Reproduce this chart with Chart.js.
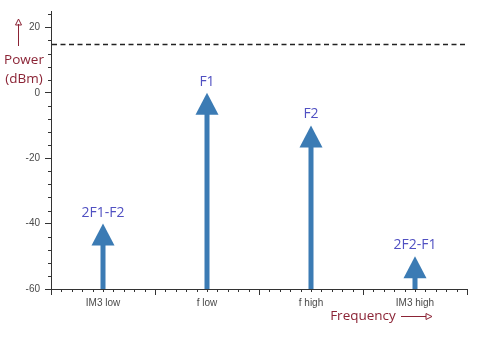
<!DOCTYPE html>
<html>
<head>
<meta charset="utf-8">
<script src="https://cdn.jsdelivr.net/npm/chart.js@4"></script>
<style>
  html, body { margin: 0; padding: 0; background: #fff; }
  #wrap { width: 486px; height: 340px; position: relative; }
</style>
</head>
<body>
<div id="wrap"><canvas id="myChart" width="486" height="340"></canvas></div>
<script>
// chart data
const categories = ['IM3 low', 'f low', 'f high', 'IM3 high'];
const toneNames = ['2F1-F2', 'F1', 'F2', '2F2-F1'];
const powerLevels = [-40, 0, -10, -50];
const yTicks = [-60, -40, -20, 0, 20];
const yMin = -60;
const yMax = 25;
const limitLevel = 15;

const arrowBlue = '#3b7bb4';
const labelBlue = '#5050c2';
const titleRed = '#8b2335';
const axisColor = '#333';

// arrows, tone names, minor ticks, dashed limit line and axis titles
const decorations = {
    id: 'decorations',
    afterDraw(chart) {
        const c = chart.ctx;
        const x = chart.scales.x;
        const y = chart.scales.y;
        const area = chart.chartArea;
        const meta = chart.getDatasetMeta(0);

        c.save();

        // minor ticks on x axis
        c.strokeStyle = axisColor;
        c.lineWidth = 1;
        c.beginPath();
        for (let i = 0; i < categories.length; i++) {
            for (let k = 1; k < 10; k++) {
                const px = Math.round(x.getPixelForValue(i - 0.5 + k / 10)) + 0.5;
                c.moveTo(px, area.bottom);
                c.lineTo(px, area.bottom + 3);
            }
        }
        // minor ticks on y axis
        for (let v = yMin + 4; v <= yMax; v += 4) {
            if (v % 20 === 0) continue;
            const py = Math.round(y.getPixelForValue(v)) + 0.5;
            c.moveTo(area.left - 3, py);
            c.lineTo(area.left, py);
        }
        c.stroke();

        // dashed limit line
        const ly = Math.round(y.getPixelForValue(limitLevel)) + 0.5;
        c.setLineDash([5, 3.5]);
        c.lineWidth = 1.3;
        c.strokeStyle = '#222';
        c.beginPath();
        c.moveTo(area.left + 1, ly);
        c.lineTo(area.right, ly);
        c.stroke();
        c.setLineDash([]);

        // arrows (shaft from the bar's category position, head at the value) and names
        const baseY = y.getPixelForValue(yMin);
        meta.data.forEach((bar, i) => {
            const tipX = bar.x;
            const tipY = y.getPixelForValue(powerLevels[i]);
            c.fillStyle = arrowBlue;
            c.fillRect(tipX - 2.5, tipY + 20, 5, baseY - tipY - 20);
            c.beginPath();
            c.moveTo(tipX, tipY);
            c.lineTo(tipX + 11.5, tipY + 22);
            c.lineTo(tipX - 11.5, tipY + 22);
            c.closePath();
            c.fill();

            c.fillStyle = labelBlue;
            c.font = '14px "Open Sans"';
            c.textAlign = 'center';
            c.textBaseline = 'middle';
            c.fillText(toneNames[i], tipX, tipY - 11);
        });

        // axis titles
        c.fillStyle = titleRed;
        c.strokeStyle = titleRed;
        c.font = '13.5px "Open Sans"';
        c.textAlign = 'center';
        c.textBaseline = 'middle';
        c.fillText('Power', 24, 60);
        c.fillText('(dBm)', 24, 79);
        c.fillText('Frequency', 363, 316);

        c.lineWidth = 1;
        // up arrow
        c.beginPath();
        c.moveTo(18.5, 46);
        c.lineTo(18.5, 24);
        c.stroke();
        c.beginPath();
        c.moveTo(18.5, 19);
        c.lineTo(21.5, 25);
        c.lineTo(15.5, 25);
        c.closePath();
        c.stroke();
        // right arrow
        c.beginPath();
        c.moveTo(401, 316.5);
        c.lineTo(426, 316.5);
        c.stroke();
        c.beginPath();
        c.moveTo(432, 316.5);
        c.lineTo(426, 313.5);
        c.lineTo(426, 319.5);
        c.closePath();
        c.stroke();

        c.restore();
    }
};

const data = {
    labels: categories,
    datasets: [{
        data: powerLevels.map(v => [yMin, v]),
        backgroundColor: 'rgba(0,0,0,0)',
        borderWidth: 0,
        barThickness: 5
    }]
};

const myChart = new Chart(document.getElementById('myChart').getContext('2d'), {
    type: 'bar',
    data: data,
    options: {
        responsive: false,
        animation: false,
        layout: { padding: { top: 9, right: 19, bottom: 0, left: 0 } },
        plugins: {
            legend: { display: false },
            tooltip: { enabled: false }
        },
        scales: {
            x: {
                offset: true,
                grid: {
                    offset: true,
                    drawOnChartArea: false,
                    tickLength: 6,
                    color: axisColor
                },
                border: { color: axisColor },
                ticks: {
                    color: '#4a4a4a',
                    padding: 2,
                    maxRotation: 0,
                    font: { family: 'Liberation Sans', size: 10 }
                },
                afterFit: s => { s.height = 51; }
            },
            y: {
                min: yMin,
                max: yMax,
                afterBuildTicks: s => { s.ticks = yTicks.map(v => ({ value: v })); },
                grid: {
                    drawOnChartArea: false,
                    tickLength: 6,
                    color: axisColor
                },
                border: { color: axisColor },
                ticks: {
                    color: '#4a4a4a',
                    padding: 5,
                    font: { family: 'Liberation Sans', size: 10 }
                },
                afterFit: s => { s.width = 51; }
            }
        }
    },
    plugins: [decorations]
});
</script>
</body>
</html>
